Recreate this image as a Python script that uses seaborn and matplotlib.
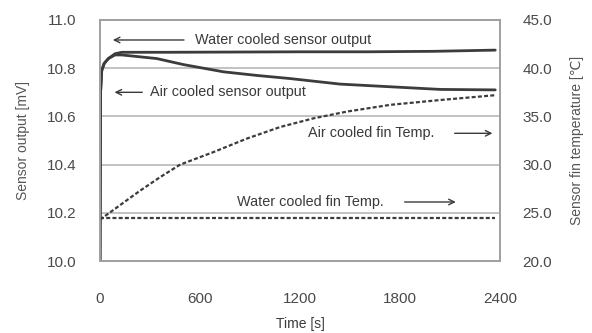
import numpy as np
import pandas as pd
import matplotlib
matplotlib.use('Agg')
import matplotlib.pyplot as plt
import seaborn as sns

# data
t_water = [0, 3, 10, 25, 50, 90, 130, 400, 800, 1200, 1600, 2000, 2370]
water_sensor = [10.0, 10.7, 10.79, 10.82, 10.84, 10.86, 10.866, 10.866, 10.867, 10.868, 10.868, 10.87, 10.875]

t_air = [0, 3, 10, 25, 50, 90, 130, 200, 340, 500, 740, 940, 1140, 1440, 1740, 2040, 2370]
air_sensor = [10.0, 10.7, 10.79, 10.82, 10.84, 10.855, 10.855, 10.85, 10.84, 10.815, 10.785, 10.77,
              10.757, 10.734, 10.723, 10.712, 10.71]

t_air_fin = [0, 120, 240, 360, 480, 680, 880, 1080, 1280, 1480, 1740, 2040, 2370]
air_fin = [24.3, 25.8, 27.3, 28.7, 30.0, 31.3, 32.7, 33.9, 34.8, 35.5, 36.2, 36.7, 37.2]

t_water_fin = [0, 600, 1200, 1800, 2370]
water_fin = [24.5, 24.5, 24.5, 24.5, 24.5]

x_ticks = [0, 600, 1200, 1800, 2400]
y_left_ticks = [10.0, 10.2, 10.4, 10.6, 10.8, 11.0]
y_right_ticks = [20.0, 25.0, 30.0, 35.0, 40.0, 45.0]

sns.set_style('white')
plt.rcParams['font.family'] = ['Liberation Sans', 'DejaVu Sans']

txt = '#3a3a3a'
line_c = '#3c3c3c'

fig = plt.figure(figsize=(5.92, 3.33), dpi=100)
ax = fig.add_axes([0.169, 0.216, 0.676, 0.724])
ax2 = ax.twinx()

# sensor outputs (left axis)
sns.lineplot(x=t_water, y=water_sensor, ax=ax, color=line_c, linewidth=2.0)
sns.lineplot(x=t_air, y=air_sensor, ax=ax, color=line_c, linewidth=2.0)

# fin temperatures (right axis)
sns.lineplot(x=t_air_fin, y=air_fin, ax=ax2, color=line_c, linewidth=1.6)
ax2.lines[-1].set_dashes([1.8, 1.0])
sns.lineplot(x=t_water_fin, y=water_fin, ax=ax2, color=line_c, linewidth=1.6)
ax2.lines[-1].set_dashes([1.8, 1.0])

ax.set_xlim(0, 2400)
ax.set_ylim(10.0, 11.0)
ax2.set_ylim(20, 45)
ax.set_xticks(x_ticks)
ax.set_yticks(y_left_ticks)
ax2.set_yticks(y_right_ticks)
ax.set_yticklabels([f'{v:.1f}' for v in y_left_ticks])
ax2.set_yticklabels([f'{v:.1f}' for v in y_right_ticks])

ax.yaxis.grid(True, color='#b8b8b8', linewidth=1.2)
ax.set_axisbelow(True)
for a in (ax, ax2):
    for s in a.spines.values():
        s.set_color('#a0a0a0')
        s.set_linewidth(1.2)
    a.tick_params(length=0, labelsize=11, colors='#4a4a4a')
ax.tick_params(axis='x', pad=22)
ax.tick_params(axis='y', pad=17)
ax2.tick_params(axis='y', pad=16)

ax.set_xlabel('Time [s]', fontsize=10, color=txt, labelpad=8)
ax.set_ylabel('Sensor output [mV]', fontsize=10, color='#555555', labelpad=12)
ax2.set_ylabel('Sensor fin temperature [\u2103]', fontsize=10, color='#555555', labelpad=13)

# annotations
arrow = dict(arrowstyle='->', color=txt, lw=1.0)
fs = 10.4
ax.annotate('', xy=(60, 10.917), xytext=(520, 10.917), arrowprops=arrow)
ax.text(570, 10.917, 'Water cooled sensor output', fontsize=fs, color=txt, va='center')
ax.annotate('', xy=(70, 10.70), xytext=(270, 10.70), arrowprops=arrow)
ax.text(300, 10.70, 'Air cooled sensor output', fontsize=fs, color=txt, va='center')
ax.text(1250, 10.53, 'Air cooled fin Temp.', fontsize=fs, color=txt, va='center')
ax.annotate('', xy=(2370, 10.53), xytext=(2110, 10.53), arrowprops=arrow)
ax.text(820, 10.245, 'Water cooled fin Temp.', fontsize=fs, color=txt, va='center')
ax.annotate('', xy=(2150, 10.245), xytext=(1810, 10.245), arrowprops=arrow)

plt.savefig('out.png', dpi=100)
